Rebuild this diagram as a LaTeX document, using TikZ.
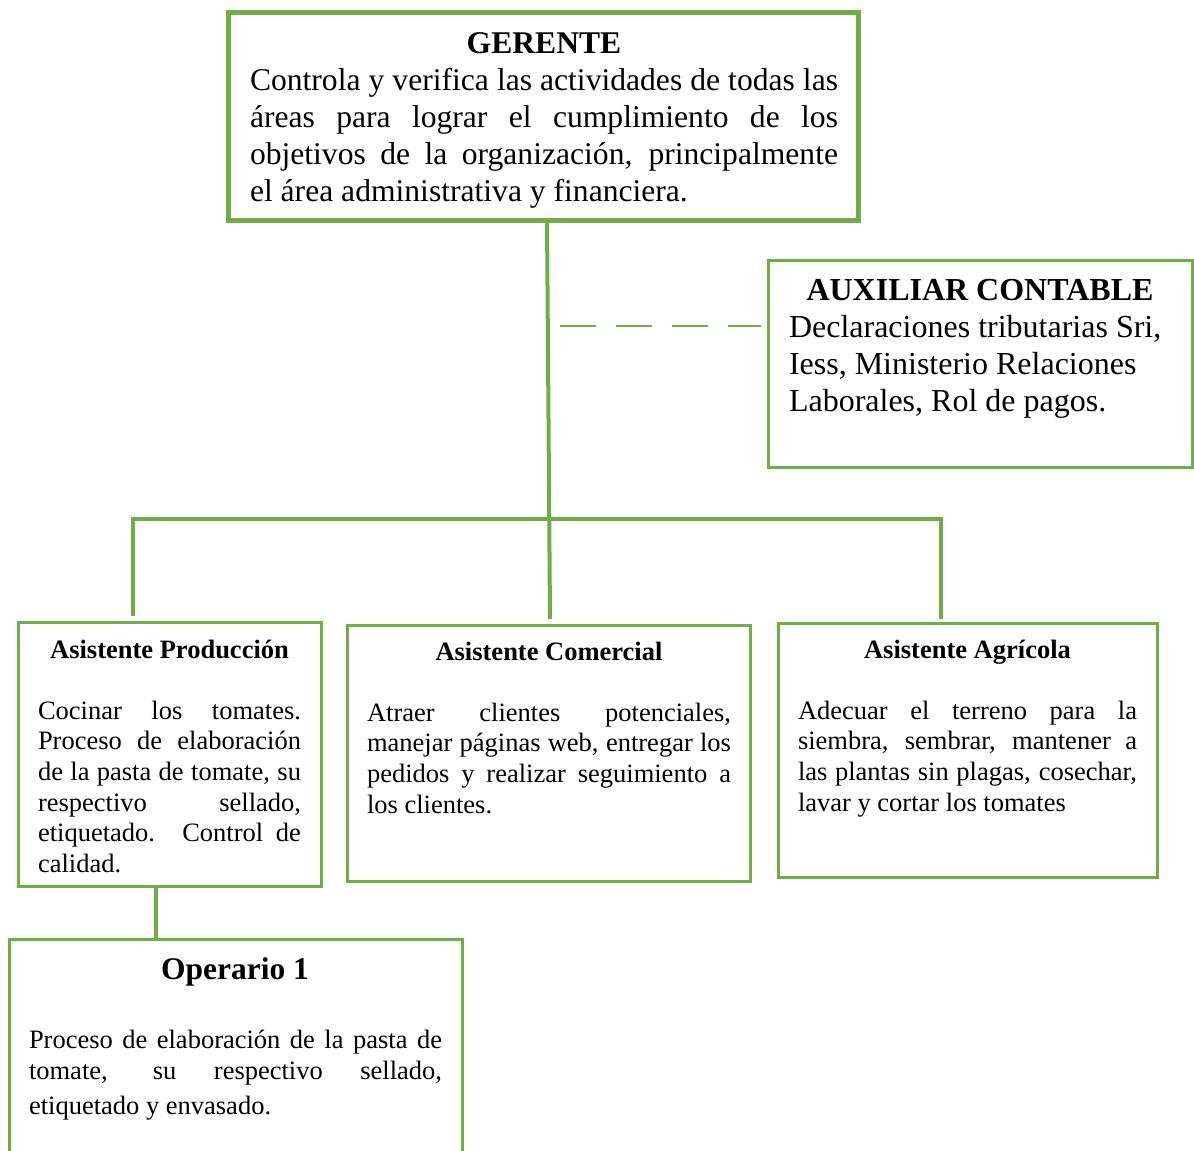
\documentclass[tikz,border=0pt]{standalone}
\usepackage{fontspec}
\setmainfont{Liberation Serif}
\definecolor{grn}{HTML}{70AD47}
\tikzset{
  box/.style={draw=grn, line width=3pt, rectangle, inner sep=0pt, outer sep=0pt},
  bigbox/.style={box, line width=5pt},
  conn/.style={draw=grn, line width=4pt},
  dconn/.style={draw=grn, line width=2pt, dash pattern=on 36pt off 20pt},
  txt/.style={inner sep=0pt, outer sep=0pt, anchor=base west},
  bigfont/.style={font=\fontsize{31.6}{37}\selectfont},
  auxfont/.style={font=\fontsize{32}{37}\selectfont},
  smallfont/.style={font=\fontsize{26.5}{30.6}\selectfont},
}
\newcommand{\jline}[1]{\makebox[\linewidth][s]{\spaceskip=0pt\xspaceskip=0pt\relax #1}}
\newcommand{\pline}[1]{\makebox[\linewidth][l]{\spaceskip=0pt\xspaceskip=0pt\relax #1}}
\newcommand{\ctitle}[1]{\makebox[\linewidth][c]{\spaceskip=0pt\xspaceskip=0pt\relax\bfseries #1}}
\begin{document}
\begin{tikzpicture}[x=1pt,y=-1pt]
\useasboundingbox (0,0) rectangle (1194,1151);
\clip (0,0) rectangle (1194,1151);

% boxes
\node[bigbox, minimum width=630pt, minimum height=208pt] (ger) at (543,116) {};
\node[box, minimum width=424pt, minimum height=207pt] (aux) at (980,363.5) {};
\node[box, minimum width=303pt, minimum height=264pt] (prod) at (169.5,754) {};
\node[box, minimum width=403pt, minimum height=256pt] (com) at (548.5,753) {};
\node[box, minimum width=379pt, minimum height=254pt] (agr) at (967.5,750) {};
\node[box, minimum width=453pt, minimum height=241pt] (op) at (235.5,1059.5) {};

% texts
\node[txt, bigfont, text width=588pt] (gertxt) at (250,53) {%
\ctitle{GERENTE}\\
\jline{Controla y verifica las actividades de todas las}\\
\jline{áreas para lograr el cumplimiento de los}\\
\jline{objetivos de la organización, principalmente}\\
\pline{el área administrativa y financiera.}};

\node[txt, auxfont, text width=382pt] (auxtxt) at (789,300) {%
\ctitle{AUXILIAR CONTABLE}\\
\pline{Declaraciones tributarias Sri,}\\
\pline{Iess, Ministerio Relaciones}\\
\pline{Laborales, Rol de pagos.}};

\node[txt, smallfont, text width=263pt] (prodtxt) at (38,658) {%
\ctitle{Asistente Producción}\\[30.6pt]
\jline{Cocinar los tomates.}\\
\jline{Proceso de elaboración}\\
\jline{de la pasta de tomate, su}\\
\jline{respectivo sellado,}\\
\jline{etiquetado. Control de}\\
\pline{calidad.}};

\node[txt, smallfont, text width=364pt] (comtxt) at (367,660) {%
\ctitle{Asistente Comercial}\\[30.6pt]
\jline{Atraer clientes potenciales,}\\
\jline{manejar páginas web, entregar los}\\
\jline{pedidos y realizar seguimiento a}\\
\pline{los clientes.}};

\node[txt, smallfont, text width=339pt] (agrtxt) at (798,658) {%
\ctitle{Asistente Agrícola}\\[30.6pt]
\jline{Adecuar el terreno para la}\\
\jline{siembra, sembrar, mantener a}\\
\jline{las plantas sin plagas, cosechar,}\\
\pline{lavar y cortar los tomates}};

\node[inner sep=0pt, anchor=base, font=\fontsize{31.5}{37}\selectfont\bfseries] (optitle) at (235,979) {Operario 1};
\node[txt, font=\fontsize{26.5}{31}\selectfont, text width=413pt] (optxt) at (29,1048) {%
\jline{Proceso de elaboración de la pasta de}\\
\jline{tomate, su respectivo sellado,}\\[4pt]
\pline{etiquetado y envasado.}};

% connectors
\coordinate (hl) at (133,519);
\coordinate (hr) at (941,519);
\coordinate (dstart) at (560,326);
\draw[conn] ([xshift=4pt]ger.south) -- ([xshift=1.5pt,yshift=6pt]com.north);
\draw[conn, line cap=rect] (hl) -- (hr);
\draw[conn, shorten >=6pt] (hl) -- (hl |- prod.north);
\draw[conn, shorten >=4pt] (hr) -- (hr |- agr.north);
\draw[dconn, shorten >=7pt] (dstart) -- (dstart -| aux.west);
\draw[conn] ([xshift=-13.5pt]prod.south) -- ([xshift=-13.5pt]prod.south |- op.north);
\end{tikzpicture}
\end{document}
